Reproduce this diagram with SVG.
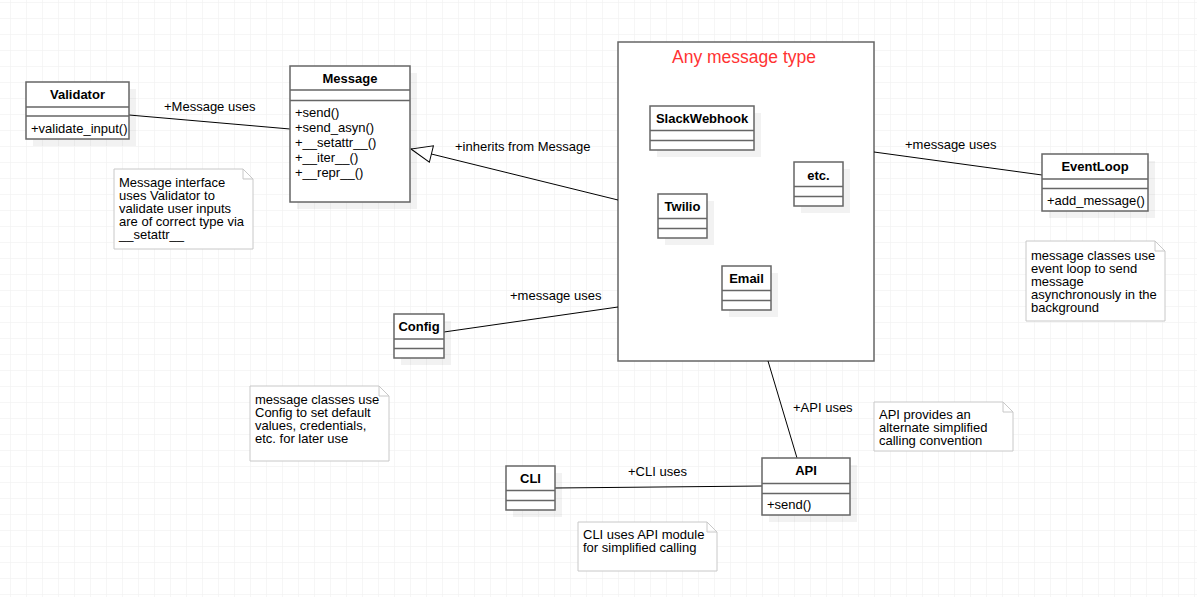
<svg xmlns="http://www.w3.org/2000/svg" width="1197" height="597" viewBox="0 0 1197 597">
<defs>
<pattern id="grid" x="10" y="2" width="16" height="16" patternUnits="userSpaceOnUse">
<path d="M0 0 H16 M0 0 V16" fill="none" stroke="#eeeeee" stroke-width="1"/>
</pattern>
<marker id="inh" viewBox="0 0 24 20" refX="22" refY="10" markerWidth="24" markerHeight="20" markerUnits="userSpaceOnUse" orient="auto">
<path d="M22 10 L1 1.5 L1 18.5 Z" fill="#ffffff" stroke="#000000" stroke-width="1"/>
</marker>
</defs>
<style>
text{font-family:"Liberation Sans",Arial,sans-serif;font-size:13px;fill:#000}
.b{font-weight:bold;text-anchor:middle}
.box{fill:#ffffff;stroke:#666666;stroke-width:1.5}
.div{stroke:#666666;stroke-width:1.5;fill:none}
.sh{fill:#000000;fill-opacity:0.05}
.note{fill:#ffffff;stroke:#c8c8c8;stroke-width:1}
.conn{stroke:#000000;stroke-width:1;fill:none}
.title{fill:#ff3333;font-size:17.5px;text-anchor:middle}
</style>
<rect width="1197" height="597" fill="#ffffff"/>
<rect width="1197" height="597" fill="url(#grid)"/>

<g id="container">
<rect class="box" x="618" y="42" width="256" height="319"/>
<text class="title" x="744" y="63">Any message type</text>
</g>

<g id="connectors">
<line class="conn" x1="129" y1="115" x2="290" y2="129"/>
<text x="164" y="111">+Message uses</text>
<line class="conn" x1="618" y1="200" x2="411" y2="149" marker-end="url(#inh)"/>
<text x="455" y="151">+inherits from Message</text>
<line class="conn" x1="874" y1="152" x2="1042" y2="175"/>
<text x="905" y="149">+message uses</text>
<line class="conn" x1="444" y1="332" x2="618" y2="307"/>
<text x="510" y="300">+message uses</text>
<line class="conn" x1="768" y1="361" x2="797" y2="458"/>
<text x="793" y="412">+API uses</text>
<line class="conn" x1="555" y1="488" x2="762" y2="486"/>
<text x="628" y="476">+CLI uses</text>
</g>

<g id="validator">
<rect class="sh" x="33" y="89" width="103" height="57"/>
<rect class="box" x="26" y="82" width="103" height="57"/>
<path class="div" d="M26 107 H129 M26 116 H129"/>
<text class="b" x="77.5" y="99">Validator</text>
<text x="31" y="133">+validate_input()</text>
</g>

<g id="message">
<rect class="sh" x="297" y="73" width="120" height="136"/>
<rect class="box" x="290" y="66" width="120" height="136"/>
<path class="div" d="M290 90 H410 M290 100.5 H410"/>
<text class="b" x="350" y="83">Message</text>
<text x="295" y="116.5">+send()</text>
<text x="295" y="131.5">+send_asyn()</text>
<text x="295" y="146.5">+__setattr__()</text>
<text x="295" y="161.5">+__iter__()</text>
<text x="295" y="176.5">+__repr__()</text>
</g>

<g id="note-validator">
<path class="note" d="M114 169 H243 L253 179 V249 H114 Z M243 169 V179 H253"/>
<text x="119" y="187">Message interface</text>
<text x="119" y="200">uses Validator to</text>
<text x="119" y="213">validate user inputs</text>
<text x="119" y="226">are of correct type via</text>
<text x="119" y="239">__setattr__</text>
</g>

<g id="slackwebhook">
<rect class="sh" x="657" y="113" width="104" height="44"/>
<rect class="box" x="650" y="106" width="104" height="44"/>
<path class="div" d="M650 130.5 H754 M650 140.5 H754"/>
<text class="b" x="702" y="123">SlackWebhook</text>
</g>

<g id="etc">
<rect class="sh" x="801" y="169" width="49" height="44"/>
<rect class="box" x="794" y="162" width="49" height="44"/>
<path class="div" d="M794 186.5 H843 M794 196.5 H843"/>
<text class="b" x="818.5" y="179.5">etc.</text>
</g>

<g id="twilio">
<rect class="sh" x="665" y="201" width="49" height="44"/>
<rect class="box" x="658" y="194" width="49" height="44"/>
<path class="div" d="M658 218.5 H707 M658 228.5 H707"/>
<text class="b" x="682.5" y="211">Twilio</text>
</g>

<g id="email">
<rect class="sh" x="729" y="273" width="49" height="44"/>
<rect class="box" x="722" y="266" width="49" height="44"/>
<path class="div" d="M722 290.5 H771 M722 300.5 H771"/>
<text class="b" x="746.5" y="283">Email</text>
</g>

<g id="eventloop">
<rect class="sh" x="1049" y="161" width="106" height="57"/>
<rect class="box" x="1042" y="154" width="106" height="57"/>
<path class="div" d="M1042 179 H1148 M1042 188.5 H1148"/>
<text class="b" x="1095" y="171">EventLoop</text>
<text x="1047" y="204.5">+add_message()</text>
</g>

<g id="note-eventloop">
<path class="note" d="M1026 241 H1155 L1165 251 V321 H1026 Z M1155 241 V251 H1165"/>
<text x="1031" y="259.5">message classes use</text>
<text x="1031" y="272.5">event loop to send</text>
<text x="1031" y="285.5">message</text>
<text x="1031" y="298.5">asynchronously in the</text>
<text x="1031" y="311.5">background</text>
</g>

<g id="config">
<rect class="sh" x="401" y="321" width="50" height="44"/>
<rect class="box" x="394" y="314" width="50" height="44"/>
<path class="div" d="M394 339 H444 M394 348.5 H444"/>
<text class="b" x="419" y="331">Config</text>
</g>

<g id="note-config">
<path class="note" d="M250 386 H379 L389 396 V461 H250 Z M379 386 V396 H389"/>
<text x="255" y="403.5">message classes use</text>
<text x="255" y="416.5">Config to set default</text>
<text x="255" y="429.5">values, credentials,</text>
<text x="255" y="442.5">etc. for later use</text>
</g>

<g id="api">
<rect class="sh" x="769" y="465" width="88" height="57"/>
<rect class="box" x="762" y="458" width="88" height="57"/>
<path class="div" d="M762 483.5 H850 M762 493.5 H850"/>
<text class="b" x="806" y="475">API</text>
<text x="767" y="508.5">+send()</text>
</g>

<g id="note-api">
<path class="note" d="M874 402 H1003 L1013 412 V451 H874 Z M1003 402 V412 H1013"/>
<text x="879" y="418.5">API provides an</text>
<text x="879" y="431.5">alternate simplified</text>
<text x="879" y="444.5">calling convention</text>
</g>

<g id="cli">
<rect class="sh" x="513" y="473" width="49" height="44"/>
<rect class="box" x="506" y="466" width="49" height="44"/>
<path class="div" d="M506 490.5 H555 M506 500.5 H555"/>
<text class="b" x="530.5" y="482.5">CLI</text>
</g>

<g id="note-cli">
<path class="note" d="M578 522 H707 L717 532 V571 H578 Z M707 522 V532 H717"/>
<text x="583" y="539">CLI uses API module</text>
<text x="583" y="552">for simplified calling</text>
</g>
</svg>
